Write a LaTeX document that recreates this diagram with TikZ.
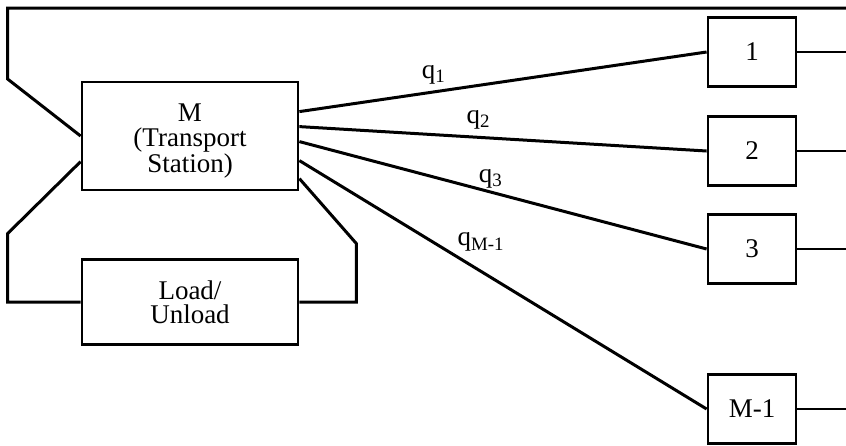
\documentclass[tikz,border=0pt]{standalone}
\usepackage{fontspec}
\setmainfont{Liberation Serif}
\usetikzlibrary{positioning, calc}
\tikzset{
	stn/.style ={rectangle, draw=black, line width=1.4pt, minimum width=108pt, align=center, inner sep=0pt},
	wsb/.style ={rectangle, draw=black, line width=1.4pt, minimum width=44pt, minimum height=34.5pt, inner sep=0pt},
	link/.style={line width=1.5pt, line join=miter},
	exit/.style={line width=1pt},
}

\begin{document}
\begin{tikzpicture}[x=0.5pt, y=-0.5pt, font=\fontsize{13.5}{12.2}\selectfont]
	\useasboundingbox (0,0) rectangle (846,445);
	\coordinate (rx) at (846,0);
	\coordinate (top) at (0,8);
	\node[stn, minimum height=54pt] (M) at (190,136) {\rule{0pt}{14pt}M\\(Transport\\Station)};
	\node[stn, minimum height=42.5pt] (L) at (190,302) {Load/\\Unload};
	% work stations with their exit lines
	\foreach \i/\t/\y in {1/1/52, 2/2/151, 3/3/249, 4/M-1/409} {
		\node[wsb] (w\i) at (752,\y) {\t};
		\draw[exit] (w\i.east) -- (w\i.east -| rx);
	}
	\draw[link] ($(M.north east)+(0,31)$) -- node[above, pos=0.33] {q\textsubscript{1}} (w1.west);
	\draw[link] ($(M.north east)+(0,46)$) -- node[above, pos=0.44] {q\textsubscript{2}} (w2.west);
	\draw[link] ($(M.north east)+(0,61)$) -- node[above, pos=0.47, yshift=-2pt] {q\textsubscript{3}} (w3.west);
	\draw[link] ($(M.north east)+(0,80)$) -- node[anchor=south west, pos=0.38, inner sep=1pt] {q\textsubscript{M-1}} (w4.west);
	% loop to load/unload
	\draw[link] (M.west) -- ++(-73,-57) |- (rx |- top);
	\draw[link] ($(M.north west)+(0,81)$) -- ++(-73,72) |- (L.west);
	\draw[link] ($(M.north east)+(0,98)$) -- ++(57,65) |- (L.east);
\end{tikzpicture}
\end{document}
